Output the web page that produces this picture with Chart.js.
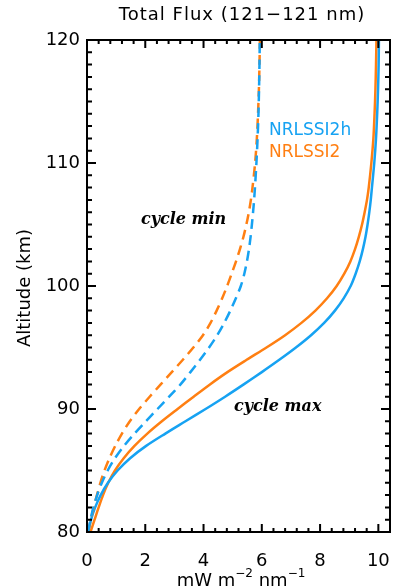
<!DOCTYPE html>
<html lang="en">
<head>
  <meta charset="UTF-8">
  <title>Total Flux</title>
  <script src="https://cdn.jsdelivr.net/npm/chart.js@4/dist/chart.umd.min.js"></script>
  <style>
    html, body { margin: 0; padding: 0; background: #fff; }
    canvas { display: block; }
  </style>
</head>
<body>
  <canvas id="chart" width="395" height="588"></canvas>
  <script>
    // altitude grid (km) shared by all four profiles
    const altitudes = [80, 81, 82, 83, 84, 85, 86, 87, 88, 89, 90, 91, 92, 93, 94, 95, 96, 97, 98, 99,
                       100, 101, 102, 103, 104, 105, 106, 107, 108, 110, 112, 114, 116, 118, 120];

    // flux, mW m-2 nm-1
    const nrlssi2hMax = [0.04, 0.14, 0.28, 0.47, 0.72, 1.05, 1.48, 2.03, 2.69, 3.38, 4.07, 4.74, 5.38, 6.00, 6.60, 7.17,
                         7.69, 8.14, 8.51, 8.81, 9.05, 9.22, 9.36, 9.47, 9.56, 9.63, 9.69, 9.74, 9.78, 9.86, 9.92, 9.96, 9.99, 10.01, 10.02];
    const nrlssi2Max  = [0.12, 0.26, 0.40, 0.55, 0.73, 0.96, 1.26, 1.63, 2.07, 2.57, 3.11, 3.66, 4.22, 4.82, 5.48, 6.16,
                         6.80, 7.36, 7.84, 8.24, 8.57, 8.83, 9.04, 9.20, 9.33, 9.44, 9.53, 9.61, 9.67, 9.76, 9.83, 9.87, 9.90, 9.92, 9.935];
    const nrlssi2hMin = [0.04, 0.12, 0.22, 0.35, 0.51, 0.71, 0.96, 1.27, 1.63, 2.02, 2.42, 2.82, 3.21, 3.55, 3.88, 4.19,
                         4.47, 4.71, 4.92, 5.11, 5.28, 5.40, 5.49, 5.56, 5.615, 5.66, 5.70, 5.735, 5.765, 5.815, 5.855, 5.885, 5.905, 5.92, 5.93];
    const nrlssi2Min  = [0.05, 0.13, 0.23, 0.34, 0.46, 0.60, 0.77, 0.97, 1.20, 1.47, 1.79, 2.15, 2.53, 2.91, 3.29, 3.65,
                         3.98, 4.24, 4.45, 4.64, 4.81, 4.965, 5.115, 5.25, 5.37, 5.47, 5.555, 5.625, 5.68, 5.77, 5.83, 5.87, 5.90, 5.92, 5.935];

    const xTicks = [0, 2, 4, 6, 8, 10];
    const yTicks = [80, 90, 100, 110, 120];

    const BLUE = '#16a2f2';
    const ORANGE = '#ff7f12';
    const FONT = "'DejaVu Sans'";

    const profile = (vals) => vals.map((v, i) => ({ x: v, y: altitudes[i] }));
    const line = (label, vals, color, dashed) => ({
      label, data: profile(vals), borderColor: color, borderWidth: 2.5,
      borderDash: dashed ? [10, 6] : [], pointRadius: 0, showLine: true, tension: 0.3, fill: false,
    });

    // stop the label overhang from shrinking the plot box
    const noPad = (s) => { s.paddingLeft = 0; s.paddingRight = 0; s.paddingTop = 0; s.paddingBottom = 0; };

    // box frame with inward IDL-style ticks + all the free text
    const frame = {
      id: 'frame',
      afterDraw(chart) {
        const { ctx, chartArea: a, scales: { x, y } } = chart;
        ctx.save();
        ctx.strokeStyle = '#000';
        ctx.lineWidth = 2;
        ctx.strokeRect(a.left, a.top, a.right - a.left, a.bottom - a.top);
        ctx.beginPath();
        for (let i = 0; i <= 26; i++) {
          const v = i * 0.4, px = x.getPixelForValue(v);
          const len = xTicks.includes(Math.round(v * 10) / 10) ? 8 : 4;
          ctx.moveTo(px, a.bottom); ctx.lineTo(px, a.bottom - len);
          ctx.moveTo(px, a.top);    ctx.lineTo(px, a.top + len);
        }
        for (let v = 80; v <= 120; v++) {
          const py = y.getPixelForValue(v);
          const len = v % 10 === 0 ? 9 : 5;
          ctx.moveTo(a.left, py);  ctx.lineTo(a.left + len, py);
          ctx.moveTo(a.right, py); ctx.lineTo(a.right - len, py);
        }
        ctx.stroke();

        ctx.fillStyle = '#000';
        ctx.textBaseline = 'middle';
        ctx.textAlign = 'center';
        ctx.font = `18px ${FONT}`;
        ctx.letterSpacing = '1px';
        ctx.fillText('Total Flux (121\u2212121 nm)', 242, 15);
        ctx.letterSpacing = '0px';

        // y title
        ctx.save();
        ctx.translate(25, 288);
        ctx.rotate(-Math.PI / 2);
        ctx.font = `18px ${FONT}`;
        ctx.fillText('Altitude (km)', 0, 0);
        ctx.restore();

        // x title with superscripts
        const parts = [['mW m', 0], ['\u22122', 1], [' nm', 0], ['\u22121', 1]];
        const fnt = (sup) => sup ? `12px ${FONT}` : `18px ${FONT}`;
        let w = 0;
        parts.forEach(([t, s]) => { ctx.font = fnt(s); w += ctx.measureText(t).width; });
        let cx = 241 - w / 2;
        ctx.textAlign = 'left';
        parts.forEach(([t, s]) => {
          ctx.font = fnt(s);
          ctx.fillText(t, cx, s ? 574 : 581);
          cx += ctx.measureText(t).width;
        });

        // annotations
        ctx.font = `bold italic 16px 'DejaVu Serif'`;
        ctx.fillText('cycle min', 141, 220);
        ctx.fillText('cycle max', 234, 407);

        ctx.font = `17px ${FONT}`;
        ctx.fillStyle = BLUE;
        ctx.fillText('NRLSSI2h', 269, 131);
        ctx.fillStyle = ORANGE;
        ctx.fillText('NRLSSI2', 269, 153);
        ctx.restore();
      },
    };

    new Chart(document.getElementById('chart'), {
      type: 'scatter',
      data: {
        datasets: [
          line('NRLSSI2h min', nrlssi2hMin, BLUE, true),
          line('NRLSSI2 min', nrlssi2Min, ORANGE, true),
          line('NRLSSI2h max', nrlssi2hMax, BLUE, false),
          line('NRLSSI2 max', nrlssi2Max, ORANGE, false),
        ],
      },
      options: {
        responsive: false,
        animation: false,
        devicePixelRatio: 1,
        layout: { padding: { top: 40, right: 5, left: 0, bottom: 0 } },
        plugins: { legend: { display: false }, tooltip: { enabled: false }, title: { display: false } },
        scales: {
          x: {
            type: 'linear', min: 0, max: 10.4,
            afterFit: (s) => { s.height = 56; noPad(s); },
            afterBuildTicks: (s) => { s.ticks = xTicks.map(v => ({ value: v })); },
            ticks: { color: '#000', font: { family: FONT, size: 18 }, padding: 19, maxRotation: 0, includeBounds: false },
            grid: { display: false, drawTicks: false },
            border: { display: false },
          },
          y: {
            type: 'linear', min: 80, max: 120,
            afterFit: (s) => { s.width = 87; noPad(s); },
            afterBuildTicks: (s) => { s.ticks = yTicks.map(v => ({ value: v })); },
            ticks: { color: '#000', font: { family: FONT, size: 18 }, padding: 7 },
            grid: { display: false, drawTicks: false },
            border: { display: false },
          },
        },
      },
      plugins: [frame],
    });
  </script>
</body>
</html>
